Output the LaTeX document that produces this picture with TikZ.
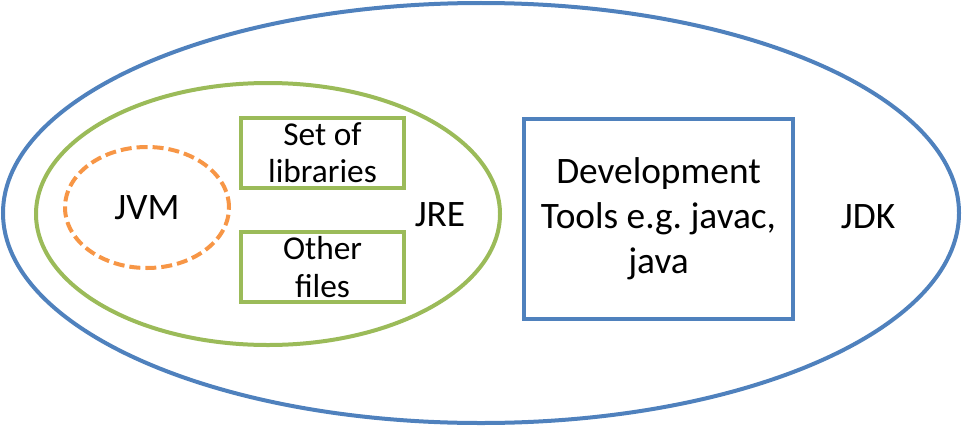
\documentclass[tikz,border=0pt]{standalone}
\usepackage{fontspec}
\setmainfont{Carlito}
\frenchspacing
\usepackage{tikz}
\usetikzlibrary{shapes.geometric,positioning}
\definecolor{jdkblue}{HTML}{4F81BD}
\definecolor{jregreen}{HTML}{9BBB59}
\definecolor{jvmorange}{HTML}{F79646}
\tikzstyle{big} = [font=\fontsize{28}{33.75}\selectfont]
\tikzstyle{small} = [font=\fontsize{25}{28}\selectfont]
\tikzstyle{outer} = [ellipse, draw=jdkblue, line width=3pt, minimum width=717pt,
  minimum height=315pt]
\tikzstyle{runtime} = [ellipse, draw=jregreen, line width=3pt, minimum width=348pt,
  minimum height=196.5pt]
\tikzstyle{machine} = [ellipse, draw=jvmorange, line width=3pt, dash pattern=on 8.25pt off 3.75pt,
  minimum width=123pt, minimum height=90.75pt, big]
\tikzstyle{part} = [rectangle, draw=jregreen, line width=3pt, minimum width=122.25pt,
  minimum height=52.5pt, inner sep=0pt, align=center, small]
\tikzstyle{tools} = [rectangle, draw=jdkblue, line width=3pt, minimum width=201.75pt,
  minimum height=150pt, inner sep=0pt, align=center, big]

\begin{document}
\begin{tikzpicture}[x=0.75pt, y=0.75pt]
    \useasboundingbox (0,0) rectangle (962,426);
    \node[outer] (jdk) at (481,213) {};
    \node[runtime] (jre) at (268,212) {};
    \node[machine] (jvm) at (147,218.5) {JVM};
    \node[part] (libs) at (322.5,273.5) {Set of\\libraries};
    \node[part, below of=libs, node distance=85.9pt] (files) {Other\\files};
    \node[tools] (devtools) at (658.5,207) {Development\\Tools e.g. javac,\\java};
    \node[big] (jrelabel) at (440,211) {JRE};
    \node[big] (jdklabel) at (868,209) {JDK};
\end{tikzpicture}
\end{document}
